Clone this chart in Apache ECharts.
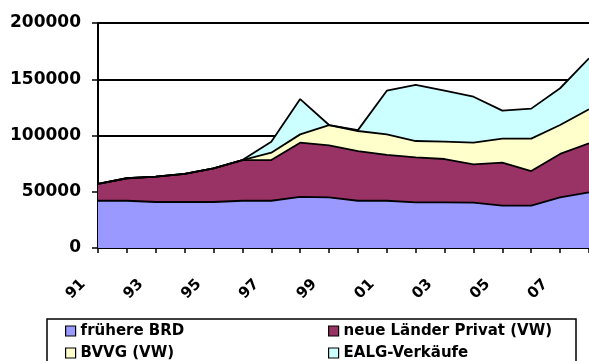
<!DOCTYPE html>
<html>
<head>
<meta charset="utf-8">
<script src="https://cdn.jsdelivr.net/npm/echarts@6/dist/echarts.min.js"></script>
<style>
  html, body { margin: 0; padding: 0; background: #fff; }
  #chart { width: 589px; height: 361px; }
</style>
</head>
<body>
<div id="chart"></div>
<script>
// Years 1991–2008, two-digit labels
const years = ['91','92','93','94','95','96','97','98','99','00','01','02','03','04','05','06','07','08'];

// Stacked components
const fruehereBRD = [42000, 42000, 40900, 40900, 40900, 42000, 42000, 45500, 45000, 42000, 42000, 40600, 40600, 40300, 37600, 37600, 45000, 49500];
const neueLaender = [14900, 20000, 22500, 24900, 29900, 36200, 36200, 48100, 46300, 44200, 40700, 40000, 38500, 34100, 38200, 30800, 38600, 43500];
const bvvg        = [0, 0, 0, 0, 0, 0, 6500, 7400, 18000, 17800, 18300, 14500, 15400, 19200, 21400, 28800, 25700, 30300];
const ealg        = [0, 0, 0, 0, 0, 0, 9800, 31400, 0, 800, 38800, 49800, 45300, 40900, 24900, 26700, 32700, 45300];

const yTicks = { min: 0, max: 200000, step: 50000 };

const seriesDefs = [
  { name: 'frühere BRD', data: fruehereBRD, color: '#9999FF' },
  { name: 'neue Länder Privat (VW)', data: neueLaender, color: '#993366' },
  { name: 'BVVG (VW)', data: bvvg, color: '#FFFFCC' },
  { name: 'EALG-Verkäufe', data: ealg, color: '#CCFFFF' }
];

const FONT = 'DejaVu Sans';

// Filled areas
const areaSeries = seriesDefs.map(s => ({
  name: s.name,
  type: 'line',
  stack: 'area',
  data: s.data,
  symbol: 'none',
  itemStyle: { color: s.color, borderColor: '#000', borderWidth: 1 },
  lineStyle: { width: 0, color: s.color },
  areaStyle: { color: s.color, opacity: 1 },
  z: 2
}));

// Black outlines drawn above all fills
const outlineSeries = seriesDefs.map(s => ({
  name: s.name + ' outline',
  type: 'line',
  stack: 'outline',
  data: s.data,
  symbol: 'none',
  silent: true,
  lineStyle: { width: 1.8, color: '#000' },
  z: 3
}));

const legendCommon = {
  orient: 'vertical',
  top: 322,
  height: 60,
  icon: 'rect',
  itemWidth: 10,
  itemHeight: 10,
  itemGap: 4,
  padding: 0,
  itemStyle: { borderColor: '#000', borderWidth: 1.2 },
  textStyle: { fontFamily: FONT, fontWeight: 'bold', fontSize: 15, color: '#000', lineHeight: 18 }
};

const chart = echarts.init(document.getElementById('chart'), null, { renderer: 'canvas' });
chart.setOption({
  animation: false,
  backgroundColor: '#fff',
  grid: { left: 98, right: 0, top: 23, bottom: 113, containLabel: false },
  xAxis: {
    type: 'category',
    data: years,
    boundaryGap: false,
    axisLine: { lineStyle: { color: '#000', width: 2 } },
    axisTick: { show: true, interval: 0, length: 5, lineStyle: { color: '#000', width: 1.5 } },
    axisLabel: {
      interval: 1,
      rotate: 45,
      margin: 19,
      // trailing spaces push the slanted year labels down-left of their ticks
      formatter: v => v + '    ',
      fontFamily: FONT,
      fontWeight: 'bold',
      fontSize: 15,
      color: '#000'
    },
    splitLine: { show: false }
  },
  yAxis: {
    type: 'value',
    min: yTicks.min,
    max: yTicks.max,
    interval: yTicks.step,
    axisLine: { show: true, lineStyle: { color: '#000', width: 2 } },
    axisTick: { show: true, length: 6, lineStyle: { color: '#000', width: 1.5 } },
    axisLabel: {
      margin: 17,
      fontFamily: FONT,
      fontWeight: 'bold',
      fontSize: 17,
      color: '#000',
      formatter: v => String(v)
    },
    splitLine: { show: true, lineStyle: { color: '#000', width: 2 } }
  },
  legend: [
    Object.assign({}, legendCommon, { left: 65, data: ['frühere BRD', 'BVVG (VW)'] }),
    Object.assign({}, legendCommon, { left: 328, data: ['neue Länder Privat (VW)', 'EALG-Verkäufe'] })
  ],
  graphic: [{
    type: 'rect',
    shape: { x: 47, y: 319, width: 529, height: 60 },
    style: { fill: 'none', stroke: '#000', lineWidth: 1.5 },
    silent: true
  }],
  series: areaSeries.concat(outlineSeries)
});
</script>
</body>
</html>
